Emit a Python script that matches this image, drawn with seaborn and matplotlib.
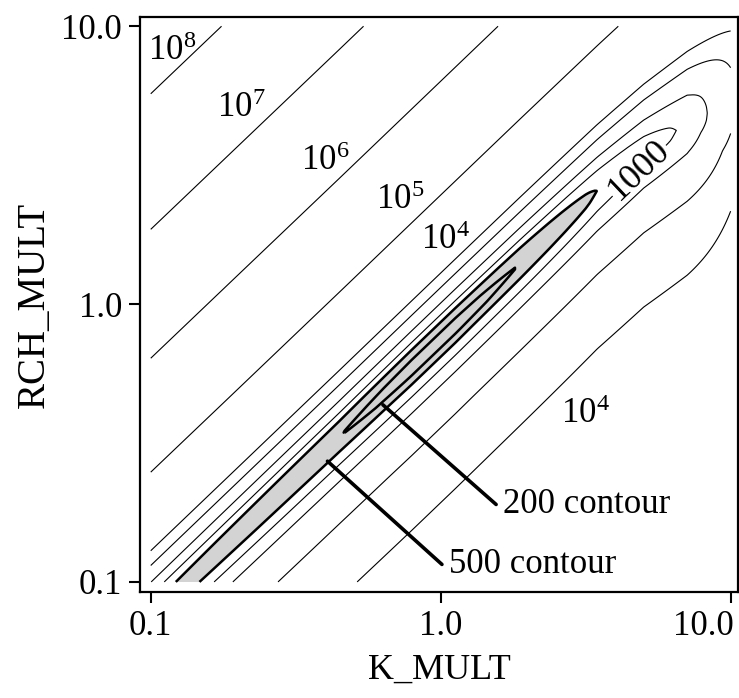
import numpy as np
import matplotlib
matplotlib.use("Agg")
import matplotlib.pyplot as plt
import matplotlib.transforms as mtransforms
import seaborn as sns

# contour levels of the objective function
levels = [200, 500, 2000, 5000, 1e4, 1e5, 1e6, 1e7, 1e8]
line_widths = [1.8, 1.8, 0.8, 0.8, 0.8, 0.8, 0.8, 0.8, 0.8]
labelled_level = 1000

# cross-valley profile:
# offset from valley floor (decades of RCH/K) -> log10(objective)
upper_offset = [0.0, 0.021, 0.061, 0.088, 0.131, 0.187, 0.239, 0.52, 0.93, 1.394, 1.882, 2.3]
upper_logf = [2.176, 2.301, 2.699, 3.0, 3.301, 3.699, 4.0, 5.0, 6.0, 7.0, 8.0, 8.9]
lower_offset = [0.0, 0.024, 0.058, 0.104, 0.163, 0.315, 0.585, 1.2, 2.2]
lower_logf = [2.176, 2.301, 2.699, 3.0, 3.301, 3.699, 4.0, 4.5, 4.8]

# stations along the valley (log10 K_MULT): floor value, valley centre, widths
station_u = [-1.0, -0.35, -0.1, 0.05, 0.27, 0.54, 0.7, 0.85, 1.0]
station_floor = [380, 200, 120, 120, 200, 500, 750, 1100, 4000]
station_c0 = [-0.125, -0.128, -0.128, -0.128, -0.128, -0.13, -0.15, -0.2, -0.27]
station_wup = [1.0, 1.0, 1.0, 1.0, 1.0, 1.0, 1.03, 1.12, 1.25]
station_wlo = [1.0, 1.0, 1.0, 1.0, 1.0, 1.0, 1.0, 1.0, 1.0]

# text annotations
contour_labels = ["$\\mathregular{10^8}$", "$\\mathregular{10^7}$", "$\\mathregular{10^6}$",
                  "$\\mathregular{10^5}$", "$\\mathregular{10^4}$", "$\\mathregular{10^4}$"]
label_x = [0.098, 0.169, 0.329, 0.596, 0.857, 2.60]
label_y = [7.59, 4.70, 3.05, 2.19, 1.585, 0.372]
callout_text = ["200 contour", "500 contour"]
callout_from = [(0.632, 0.434), (0.407, 0.272)]
callout_to = [(1.553, 0.19), (1.01, 0.1156)]
ticks = [0.1, 1.0, 10.0]
tick_labels = ["0.1", "1.0", "10.0"]

# 1 | build the objective surface on a log grid
u = np.linspace(-1, 1, 321)
uu, vv = np.meshgrid(u, u)
c = vv - uu
floor = 10 ** np.interp(uu, station_u, np.log10(station_floor))
c0 = np.interp(uu, station_u, station_c0)
wup = np.interp(uu, station_u, station_wup)
wlo = np.interp(uu, station_u, station_wlo)
d = c - c0
logf = np.where(d >= 0,
                np.interp(d / wup, upper_offset, upper_logf),
                np.interp(-d / wlo, lower_offset, lower_logf))
F = 10 ** logf + floor - 10 ** upper_logf[0]
X = 10 ** uu
Y = 10 ** vv

# 2 | canvas
sns.set_theme(style="ticks")
plt.rcParams["font.family"] = ["Liberation Serif", "DejaVu Serif"]
plt.rcParams["mathtext.fontset"] = "custom"
plt.rcParams["mathtext.rm"] = "Liberation Serif"
for key in ["text.color", "axes.labelcolor", "xtick.color", "ytick.color", "axes.edgecolor"]:
    plt.rcParams[key] = "black"

fig = plt.figure(figsize=(7.39, 6.98), dpi=100)
ax = fig.add_axes([0.1894, 0.1519, 0.8092, 0.8238])
ax.set_xscale("log")
ax.set_yscale("log")

ax.contourf(X, Y, F, levels=[0, 500], colors=["#d3d3d3"])
ax.contour(X, Y, F, levels=levels, colors="black", linewidths=line_widths)
cs1000 = ax.contour(X, Y, F, levels=[labelled_level], colors="black", linewidths=0.8)
ax.clabel(cs1000, manual=[(5.8, 2.5)], inline=True, fmt="%d",
          fontsize=26, inline_spacing=2)

# 3 | labels
for txt, lx, ly in zip(contour_labels, label_x, label_y):
    ax.text(lx, ly, txt, fontsize=25, ha="left", va="baseline")

for txt, p0, p1 in zip(callout_text, callout_from, callout_to):
    ax.annotate("", xy=p0, xytext=p1,
                arrowprops=dict(arrowstyle="-", lw=2.6, color="black", shrinkA=0, shrinkB=0))
    ax.text(p1[0] * 1.06, p1[1], txt, fontsize=25, ha="left", va="center")

ax.set_xlim(0.0918, 10.6)
ax.set_ylim(0.092, 10.8)
ax.minorticks_off()
ax.set_xticks(ticks, labels=tick_labels)
ax.set_yticks(ticks, labels=tick_labels)
ax.tick_params(axis="both", which="major", direction="out", length=8, width=1.5,
               labelsize=25, pad=5)
for s in ax.spines.values():
    s.set_linewidth(1.6)

# last x tick label sits left of its tick so it stays inside the picture
last = ax.get_xticklabels()[-1]
last.set_transform(last.get_transform() + mtransforms.ScaledTranslation(-27 / 100, 0, fig.dpi_scale_trans))

ax.set_xlabel("K_MULT", fontsize=26, labelpad=8)
ax.set_ylabel("RCH_MULT", fontsize=28, labelpad=6)

fig.savefig("out.png", dpi=100, facecolor="white")
plt.close(fig)
